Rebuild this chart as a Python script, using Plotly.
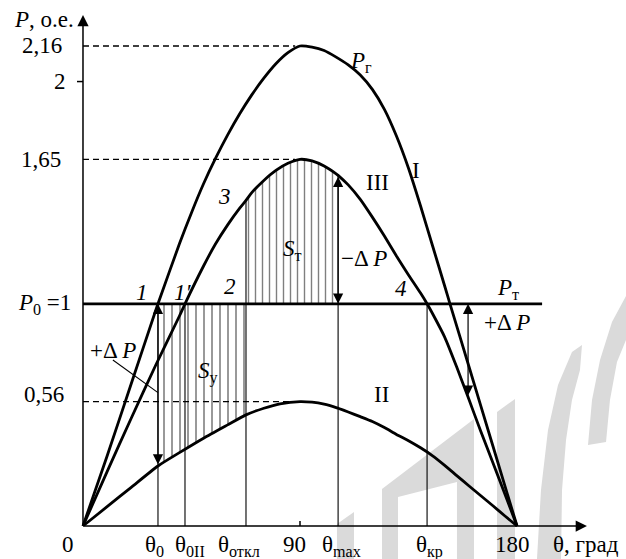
import plotly.graph_objects as go

# ---- power–angle characteristics (P in p.u., θ in degrees) ----
theta_I = [0, 10, 20, 30, 31.1, 40, 45, 50, 55, 60, 65, 70, 75, 80, 85, 90, 95, 100, 105, 110,
           115, 120, 125, 130, 135, 140, 145, 150, 152.2, 160, 170, 180]
power_I = [0, 0.315, 0.64, 0.965, 1.0, 1.27, 1.41, 1.54, 1.655, 1.76, 1.855, 1.94, 2.015, 2.08,
           2.13, 2.16, 2.155, 2.14, 2.11, 2.075, 2.03, 1.965, 1.875, 1.755, 1.61, 1.44,
           1.26, 1.08, 1.0, 0.72, 0.36, 0]

theta_II = [0, 10, 20, 31.1, 40, 50, 60, 67.6, 75, 81.7, 90, 95, 100, 105, 105.8, 110, 115,
            120, 125, 130, 135, 140, 145, 150, 155, 160, 165, 170, 175, 180]
power_II = [0, 0.087, 0.174, 0.27, 0.33, 0.395, 0.455, 0.5, 0.53, 0.55, 0.56, 0.557, 0.548,
            0.533, 0.53, 0.513, 0.492, 0.47, 0.443, 0.412, 0.384, 0.352, 0.316, 0.273, 0.227,
            0.181, 0.136, 0.091, 0.045, 0]

theta_III = [0, 10, 20, 30, 40, 42.3, 50, 55, 60, 65, 67.6, 70, 75, 80, 85, 90, 95, 100, 105,
             105.8, 110, 115, 120, 125, 130, 135, 140, 142.7, 145, 150, 155, 159.7, 165, 170,
             175, 180]
power_III = [0, 0.245, 0.485, 0.72, 0.945, 1.0, 1.17, 1.27, 1.355, 1.43, 1.465, 1.5, 1.555, 1.6,
             1.632, 1.65, 1.643, 1.62, 1.585, 1.578, 1.535, 1.47, 1.39, 1.305, 1.215, 1.13,
             1.048, 1.0, 0.955, 0.85, 0.715, 0.58, 0.425, 0.285, 0.143, 0]

P0 = 1.0                      # turbine power P_т
P0_line_end = 190.4           # extent of the P_т line, degrees

# characteristic angles on the θ axis
angle_0 = 31.1
angle_0II = 42.3
angle_off = 67.6
angle_max = 105.8
angle_cr = 142.7
angle_dP_right = 159.7

x_tick_values = [angle_0, angle_0II, angle_off, 90, angle_max, angle_cr, 180]
x_tick_labels = ['θ<sub>0</sub>', 'θ<sub>0II</sub>', 'θ<sub>откл</sub>', '90',
                 'θ<sub>max</sub>', 'θ<sub>кр</sub>', '180']
x_tick_shift = [-3, 5, -7, -6, 3, 2, -5]

y_tick_values = [2.16, 2, 1.65, 1, 0.56]
y_tick_labels = ['2,16', '2', '1,65', '<i>P</i><sub>0</sub> =1', '0,56']
y_tick_shift = [-3, 1, -4, 6, -1]
y_tick_lift = [1, 0, 0, 0, 7]

dashed_levels = [2.16, 1.65, 0.56]

# ---- canvas geometry ----
W, H = 626, 559
X_RANGE = [-34.42, 225.2]
Y_RANGE = [-0.1485, 2.367]
FONT = 'Liberation Serif, Times New Roman, serif'
FS = 23
CURVE_W = 2.8


def value_at(thetas, powers, th):
    return powers[thetas.index(th)]


def px_to_paper(points):
    return 'M' + 'L'.join(f'{x / W:.4f},{1 - y / H:.4f}' for x, y in points) + 'Z'


fig = go.Figure()

# hatched area S_т (between P_т and curve III, θ_откл .. θ_max)
sel3 = [i for i, t in enumerate(theta_III) if angle_off <= t <= angle_max]
fig.add_trace(go.Scatter(x=[angle_off, angle_max], y=[P0, P0], mode='lines',
                         line=dict(width=0), hoverinfo='skip'))
fig.add_trace(go.Scatter(x=[theta_III[i] for i in sel3], y=[power_III[i] for i in sel3],
                         mode='lines', line=dict(width=0, shape='spline', smoothing=0.6),
                         fill='tonexty', fillcolor='rgba(0,0,0,0)',
                         fillpattern=dict(shape='|', size=7, solidity=0.2, fgcolor='black'),
                         hoverinfo='skip'))

# hatched area S_у (between curve II and P_т, θ_0 .. θ_откл)
sel2 = [i for i, t in enumerate(theta_II) if angle_0 <= t <= angle_off]
fig.add_trace(go.Scatter(x=[theta_II[i] for i in sel2], y=[power_II[i] for i in sel2],
                         mode='lines', line=dict(width=0, shape='spline', smoothing=0.6),
                         hoverinfo='skip'))
fig.add_trace(go.Scatter(x=[angle_0, angle_off], y=[P0, P0], mode='lines',
                         line=dict(width=0), fill='tonexty', fillcolor='rgba(0,0,0,0)',
                         fillpattern=dict(shape='|', size=8, solidity=0.2, fgcolor='black'),
                         hoverinfo='skip'))

# characteristics I, II, III
for th, pw in [(theta_I, power_I), (theta_II, power_II), (theta_III, power_III)]:
    fig.add_trace(go.Scatter(x=th, y=pw, mode='lines',
                             line=dict(color='black', width=CURVE_W, shape='spline',
                                       smoothing=0.6),
                             hoverinfo='skip'))

# turbine power line
fig.add_trace(go.Scatter(x=[0, P0_line_end], y=[P0, P0], mode='lines',
                         line=dict(color='black', width=CURVE_W), hoverinfo='skip'))

shapes = []

# light grey emblem behind the diagram
emblem = [
    [(337, 559), (354, 559), (354, 512), (337, 524)],
    [(382, 559), (382, 489), (474, 419), (474, 559), (457, 559), (457, 482), (398, 497), (398, 559)],
    [(497, 559), (515, 559), (515, 399), (497, 412)],
    [(537, 559), (541, 490), (548, 430), (558, 385), (572, 352), (582, 345), (580, 370),
     (572, 400), (566, 440), (562, 490), (561, 559)],
    [(588, 445), (592, 400), (600, 360), (612, 322), (626, 296), (626, 340), (617, 362),
     (610, 400), (606, 442)],
]
for poly in emblem:
    shapes.append(dict(type='path', xref='paper', yref='paper', path=px_to_paper(poly),
                       fillcolor='#dadada', line=dict(width=0), layer='below'))

# dashed guides to the peaks
for lvl in dashed_levels:
    shapes.append(dict(type='line', xref='x', yref='y', x0=0, x1=88, y0=lvl, y1=lvl,
                       line=dict(color='black', width=1.3, dash='6px,4px'), layer='below'))

# thin verticals at the characteristic angles
verticals = [
    (angle_0, P0),
    (angle_0II, P0),
    (angle_off, value_at(theta_III, power_III, angle_off)),
    (angle_max, value_at(theta_III, power_III, angle_max)),
    (angle_cr, P0),
]
for th, top in verticals:
    shapes.append(dict(type='line', xref='x', yref='y', x0=th, x1=th, y0=0, y1=top,
                       line=dict(color='black', width=1.1)))

# tick marks
shapes.append(dict(type='line', xref='paper', yref='y', x0=77 / W, x1=83 / W, y0=2, y1=2,
                   line=dict(color='black', width=1.5)))
shapes.append(dict(type='line', xref='x', yref='paper', x0=90, x1=90,
                   y0=1 - 526 / H, y1=1 - 521 / H, line=dict(color='black', width=1.5)))

# leader line of the left +ΔP label
shapes.append(dict(type='line', xref='x', yref='y', x0=12.4, y0=0.747, x1=angle_0, y1=0.6,
                   line=dict(color='black', width=1.1)))

annotations = []


def arrow(x, y, ax, ay, both=False, width=1.2, size=1.7):
    a = dict(x=x, y=y, ax=ax, ay=ay, xref='x', yref='y', axref='x', ayref='y', text='',
             showarrow=True, arrowhead=2, arrowsize=size, arrowwidth=width, arrowcolor='black',
             standoff=0, startstandoff=0)
    if both:
        a.update(arrowside='end+start', startarrowhead=2, startarrowsize=size)
    annotations.append(a)


# axes with arrows
arrow(209, 0, 0, 0, width=1.5, size=1.5)
arrow(0, 2.30, 0, 0, width=1.5, size=1.5)

# ΔP arrows
arrow(angle_0, P0, angle_0, value_at(theta_II, power_II, angle_0), both=True)
arrow(angle_max, P0, angle_max, value_at(theta_III, power_III, angle_max), both=True)
arrow(angle_dP_right, P0, angle_dP_right, value_at(theta_III, power_III, angle_dP_right), both=True)


def label(x, y, text, xanchor='center', yanchor='middle', xshift=0, yshift=0, size=FS):
    annotations.append(dict(x=x, y=y, xref='x', yref='y', text=text, showarrow=False,
                            xanchor=xanchor, yanchor=yanchor, xshift=xshift, yshift=yshift,
                            font=dict(family=FONT, size=size, color='black')))


# y-axis labels
for v, t, s, l in zip(y_tick_values, y_tick_labels, y_tick_shift, y_tick_lift):
    label(-6.5, v, t, xanchor='right', xshift=s, yshift=l)
label(-2.8, 2.268, '<i>P</i>, о.е.', xanchor='right', yshift=3)

# x-axis labels
for v, t, s in zip(x_tick_values, x_tick_labels, x_tick_shift):
    label(v, 0, t, yanchor='top', xshift=s, yshift=-4)
label(-6.2, 0, '0', yanchor='top', yshift=-4)
label(209, 0, 'θ, град', xanchor='left', yanchor='top', xshift=-36, yshift=-4)

# curve and point labels
label(115.3, 2.088, '<i>P</i><sub>г</sub>')
label(138.1, 1.598, 'I')
label(122.3, 1.548, 'III')
label(123.9, 0.590, 'II')
label(24.5, 1.049, '<i>1</i>')
label(42.3, 1.049, '<i>1′</i>', xshift=-2)
label(61.0, 1.080, '<i>2</i>')
label(58.5, 1.485, '<i>3</i>')
label(131.9, 1.067, '<i>4</i>')
label(176.3, 1.067, '<i>P</i><sub>т</sub>')
label(51.8, 0.689, '<i>S</i><sub>у</sub>')
label(87.0, 1.240, '<i>S</i><sub>т</sub>')
label(116.6, 1.206, '−Δ <i>P</i>')
label(175.9, 0.914, '+Δ <i>P</i>')
label(12.4, 0.792, '+Δ <i>P</i>')

fig.update_layout(
    width=W, height=H,
    margin=dict(l=0, r=0, t=0, b=0),
    paper_bgcolor='white', plot_bgcolor='white',
    showlegend=False,
    xaxis=dict(range=X_RANGE, visible=False, fixedrange=True),
    yaxis=dict(range=Y_RANGE, visible=False, fixedrange=True),
    shapes=shapes,
    annotations=annotations,
)

fig.write_html('out.html')
